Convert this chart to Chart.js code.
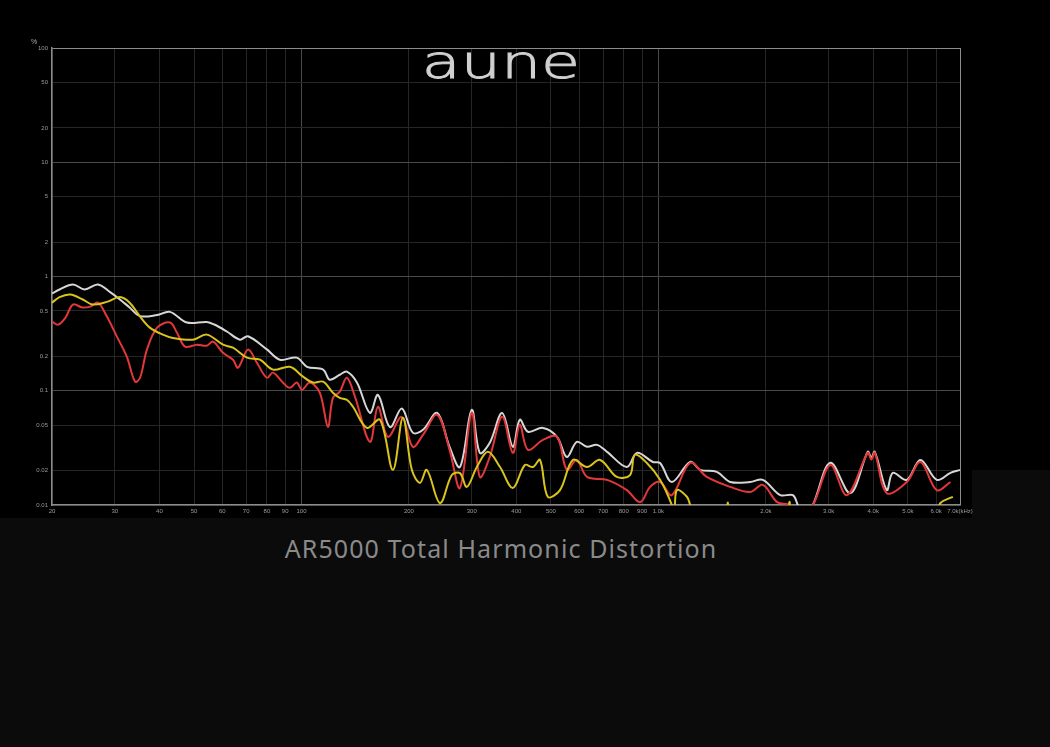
<!DOCTYPE html>
<html>
<head>
<meta charset="utf-8">
<script src="https://cdn.jsdelivr.net/npm/chart.js@4"></script>
<style>
  html, body { margin: 0; padding: 0; background: #0b0b0b; width: 1050px; height: 747px; overflow: hidden; }
  .band { position: absolute; background: #000; }
  #wrap { position: absolute; left: 0; top: 0; width: 1050px; height: 530px; }
  .logo {
    position: absolute; left: 381px; top: 38px; width: 240px; text-align: center;
    font-family: 'DejaVu Sans'; font-weight: 200; font-size: 47px; line-height: 47px;
    letter-spacing: 0px; color: #d0d0d0; -webkit-text-stroke: 0.9px #d0d0d0;
    transform: scaleX(1.35); transform-origin: 120px 0;
  }
  .title {
    position: absolute; left: 0; top: 536px; width: 1002px; text-align: center;
    font-family: 'Noto Sans'; font-size: 25px; line-height: 25px;
    letter-spacing: 1.1px; color: #8a8a8a;
  }
  .unit { position: absolute; left: 31px; top: 38px; font: 7px 'Liberation Sans'; color: #aaa; }
</style>
</head>
<body>
<div class="band" style="left:0;top:0;width:1050px;height:470px"></div>
<div class="band" style="left:0;top:470px;width:972px;height:48px"></div>
<div id="wrap"><canvas id="thd"></canvas></div>
<div class="logo">aune</div>
<div class="unit">%</div>
<div class="title">AR5000 Total Harmonic Distortion</div>
<script>
  // axis ticks
  const xTicks = [20, 30, 40, 50, 60, 70, 80, 90, 100, 200, 300, 400, 500, 600, 700, 800, 900, 1000, 2000, 3000, 4000, 5000, 6000, 7000];
  const xLabels = ['20', '30', '40', '50', '60', '70', '80', '90', '100', '200', '300', '400', '500', '600', '700', '800', '900', '1.0k', '2.0k', '3.0k', '4.0k', '5.0k', '6.0k', '7.0k(kHz)'];
  const yTicks = [100, 50, 20, 10, 5, 2, 1, 0.5, 0.2, 0.1, 0.05, 0.02, 0.01];
  const yLabels = ['100', '50', '20', '10', '5', '2', '1', '0.5', '0.2', '0.1', '0.05', '0.02', '0.01'];

  // white trace (Hz, %)
  const whiteHz = [20, 21, 22.9, 24.7, 26.9, 29.1, 31, 33, 35.3, 39.4, 42.8, 47.8, 54.3, 57, 61.8, 67.2, 70.8, 80, 87, 97,
    103.6, 115, 120, 128, 134, 143, 155.5, 163.8, 177, 191, 205, 219, 240, 260, 278, 300, 316, 337, 365, 391,
    409, 431, 475, 520, 554, 591, 631, 673, 718, 816, 871, 965, 1011, 1091, 1228, 1310, 1458, 1590, 1809, 1962,
    2196, 2381, 2459, 2560, 2709, 3033, 3451, 3861, 3950, 4040, 4365, 4537, 4966, 5424, 6025, 6584, 7023];
  const whitePct = [0.71, 0.77, 0.85, 0.77, 0.85, 0.73, 0.63, 0.535, 0.45, 0.46, 0.49, 0.395, 0.40, 0.38, 0.33, 0.28, 0.30, 0.23, 0.187, 0.195,
    0.162, 0.153, 0.125, 0.138, 0.147, 0.118, 0.064, 0.092, 0.048, 0.070, 0.043, 0.0455, 0.064, 0.0323, 0.0215, 0.068, 0.0286, 0.035, 0.064, 0.0323,
    0.0557, 0.0438, 0.0473, 0.0395, 0.0263, 0.0357, 0.0323, 0.0336, 0.0292, 0.0215, 0.0286, 0.0238, 0.0233, 0.0159, 0.0238, 0.0203, 0.0195, 0.0159, 0.0159, 0.0166,
    0.0122, 0.0122, 0.010, 0.008, 0.010, 0.0234, 0.0127, 0.0292, 0.026, 0.0292, 0.0135, 0.0191, 0.0166, 0.0248, 0.0166, 0.0191, 0.0203];

  // red trace
  const redHz = [20, 20.8, 21.8, 22.9, 24.3, 25.6, 26.9, 28.5, 30.4, 32.4, 34.2, 35.3, 36.9, 39.4, 42.8, 44.8, 47.2, 50.9, 54.3, 56.5,
    60.3, 64.3, 66.4, 70.8, 75, 80, 83.2, 88.7, 92.8, 97, 100.3, 105.6, 112.6, 118.6, 122.5, 128, 134, 141.2, 155.5, 163.8,
    174.7, 191, 205, 219, 240, 260, 278, 300, 316, 337, 365, 391, 409, 431, 475, 520, 554, 591, 631, 718,
    816, 889, 948, 1011, 1091, 1228, 1367, 1590, 1809, 1962, 2152, 2342, 2499, 2709, 3033, 3373, 3861, 3950, 4040, 4365,
    4966, 5424, 6025, 6584];
  const redPct = [0.403, 0.379, 0.435, 0.568, 0.536, 0.545, 0.59, 0.446, 0.298, 0.199, 0.12, 0.13, 0.229, 0.357, 0.395, 0.322, 0.243, 0.253, 0.248, 0.269,
    0.215, 0.187, 0.159, 0.229, 0.176, 0.13, 0.144, 0.118, 0.106, 0.118, 0.102, 0.118, 0.096, 0.0484, 0.0867, 0.098, 0.13, 0.0888, 0.0357, 0.0725,
    0.0395, 0.0591, 0.0323, 0.0411, 0.0616, 0.0304, 0.0141, 0.064, 0.0176, 0.0264, 0.0591, 0.0286, 0.0503, 0.0304, 0.0372, 0.0395, 0.0203, 0.0248, 0.0176, 0.0166,
    0.0135, 0.0106, 0.0144, 0.0159, 0.0122, 0.0234, 0.0176, 0.0144, 0.013, 0.015, 0.0106, 0.010, 0.008, 0.010, 0.0224, 0.0122, 0.0286, 0.025, 0.0286, 0.0127,
    0.0159, 0.0238, 0.0135, 0.0159];

  // yellow trace
  const yellowHz = [20, 21, 22.5, 24.4, 26, 28.5, 31, 33, 35.3, 37.6, 40.9, 43.6, 49.6, 54.3, 60.3, 64.3, 70.4, 76.5, 83.2, 92.8,
    101, 107.7, 115, 122.5, 128, 134, 139.4, 152.5, 166, 180.4, 192.4, 203.8, 214.8, 224.5, 244.4, 263.8, 278, 290.6, 310, 332.9,
    360, 391, 422.6, 445, 466, 490, 530, 575.8, 631, 687, 765, 833, 859.4, 928.6, 1011, 1091, 1110, 1126, 1202, 1228,
    1260, 1540, 1565, 1590, 2280, 2330, 2380, 5950, 6172, 6683];
  const yellowPct = [0.59, 0.66, 0.695, 0.629, 0.568, 0.60, 0.66, 0.59, 0.446, 0.357, 0.31, 0.29, 0.28, 0.31, 0.253, 0.238, 0.195, 0.187, 0.153, 0.162,
    0.133, 0.118, 0.12, 0.096, 0.0867, 0.0834, 0.0725, 0.0473, 0.0557, 0.0203, 0.058, 0.0203, 0.0156, 0.0203, 0.0104, 0.0183, 0.019, 0.0144, 0.0215, 0.0292,
    0.0215, 0.0141, 0.0224, 0.0215, 0.0248, 0.0118, 0.0135, 0.0248, 0.0215, 0.0248, 0.0176, 0.0183, 0.0275, 0.0233, 0.0166, 0.010, 0.008, 0.0135, 0.0118, 0.010,
    0.008, 0.008, 0.0105, 0.008, 0.008, 0.0107, 0.008, 0.008, 0.0104, 0.0118];

  const pts = (hz, pct) => hz.map((f, i) => ({ x: f, y: pct[i] }));

  const frame = '#8c8c8c';
  const major = '#4a4a4a';
  const minor = '#262626';
  const tickFont = { family: 'Liberation Sans', size: 6 };

  const line = (label, data, color, order) => ({
    label, data, borderColor: color, borderWidth: 2, pointRadius: 0,
    tension: 0.35, fill: false, order,
  });

  new Chart(document.getElementById('thd'), {
    type: 'line',
    data: {
      datasets: [
        line('white', pts(whiteHz, whitePct), '#d6d6d6', 3),
        line('red', pts(redHz, redPct), '#e2383a', 2),
        line('yellow', pts(yellowHz, yellowPct), '#d9c41c', 1),
      ],
    },
    options: {
      responsive: true,
      maintainAspectRatio: false,
      animation: false,
      layout: { padding: { left: 0, top: 48, right: 90, bottom: 0 } },
      plugins: { legend: { display: false }, tooltip: { enabled: false } },
      scales: {
        x: {
          type: 'logarithmic',
          min: 20,
          max: 7000,
          afterBuildTicks: (s) => { s.ticks = xTicks.map((v) => ({ value: v })); },
          afterFit: (s) => { s.height = 25; },
          ticks: {
            autoSkip: false, maxRotation: 0, color: '#9a9a9a', font: tickFont, padding: 3,
            callback: (v, i) => xLabels[i],
          },
          grid: {
            drawTicks: false,
            color: (ctx) => {
              const v = ctx.tick && ctx.tick.value;
              if (v === 7000) return frame;
              return v === 100 || v === 1000 ? major : minor;
            },
          },
          border: { color: frame, width: 1.5 },
        },
        y: {
          type: 'logarithmic',
          min: 0.01,
          max: 100,
          afterBuildTicks: (s) => { s.ticks = yTicks.map((v) => ({ value: v })); },
          afterFit: (s) => { s.width = 52; },
          ticks: {
            autoSkip: false, color: '#9a9a9a', font: tickFont, padding: 4,
            callback: (v, i) => yLabels[i],
          },
          grid: {
            drawTicks: false,
            color: (ctx) => {
              const v = ctx.tick && ctx.tick.value;
              if (v === 100) return frame;
              return v === 10 || v === 1 || v === 0.1 ? major : minor;
            },
          },
          border: { color: frame, width: 1.5 },
        },
      },
    },
  });
</script>
</body>
</html>
